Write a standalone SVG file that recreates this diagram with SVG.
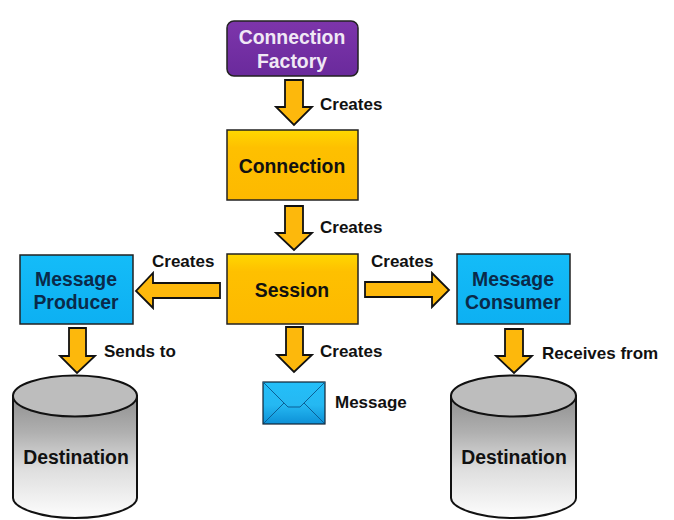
<svg xmlns="http://www.w3.org/2000/svg" width="674" height="520" viewBox="0 0 674 520">
<style>
text{font-family:"Liberation Sans",Arial,sans-serif;font-weight:700;text-anchor:middle}
.l{font-size:17px;fill:#111;text-anchor:start}
.n{font-size:19.400px}
.d{fill:#111}.w{fill:#f0e8f5}.b{fill:#0a2a4a}
.box{stroke:#222;stroke-width:1.500}
.arr{fill:#fdb80c;stroke:#111;stroke-width:1.800;stroke-linejoin:miter}
.cyl{stroke:#111;stroke-width:2}
</style>
<defs>
<linearGradient id="y" x1="0" y1="0" x2="0" y2="1"><stop offset="0" stop-color="#ffd800"/><stop offset=".25" stop-color="#fec000"/><stop offset="1" stop-color="#fdb900"/></linearGradient>
<linearGradient id="p" x1="0" y1="0" x2="0" y2="1"><stop offset="0" stop-color="#7d35ab"/><stop offset="1" stop-color="#6a2a9c"/></linearGradient>
<linearGradient id="c" x1="0" y1="0" x2="0" y2="1"><stop offset="0" stop-color="#14bcf8"/><stop offset="1" stop-color="#0db0f2"/></linearGradient>
<linearGradient id="g" x1="0" y1="0" x2="0" y2="1"><stop offset="0" stop-color="#8f8f8f"/><stop offset=".3" stop-color="#b0b0b0"/><stop offset=".6" stop-color="#dedede"/><stop offset="1" stop-color="#fdfdfd"/></linearGradient>
<linearGradient id="e" x1="0" y1="0" x2="0" y2="1"><stop offset="0" stop-color="#24bff9"/><stop offset=".55" stop-color="#25b8f2"/><stop offset="1" stop-color="#0d90d6"/></linearGradient>
</defs>
<g id="connectors">
<path class="arr" d="M285 80H303V107H312L294 125L276 107H285Z"/>
<path class="arr" d="M285 206H303V233H312L294 250L276 233H285Z"/>
<path class="arr" d="M286 327H303V355H312L294 372L277 355H286Z"/>
<path class="arr" d="M220 283V298H153V308L136 291L153 273V283Z"/>
<path class="arr" d="M365 282H432V273L449 290L432 307V297H365Z"/>
<path class="arr" d="M69 328H86V356H95L77 373L60 356H69Z"/>
<path class="arr" d="M505 329H523V356H532L514 373L496 356H505Z"/>
</g>
<g id="connection-factory"><rect class="box" x="227" y="21" width="131" height="55" rx="7" fill="url(#p)"/><text class="n w" x="292" y="44">Connection</text><text class="n w" x="292" y="68">Factory</text></g>
<g id="connection"><rect class="box" x="227" y="130" width="131" height="70" fill="url(#y)"/><text class="n d" x="292" y="173">Connection</text></g>
<g id="session"><rect class="box" x="227" y="254" width="131" height="70" fill="url(#y)"/><text class="n d" x="292" y="297">Session</text></g>
<g id="message-producer"><rect class="box" x="20" y="255" width="113" height="69" fill="url(#c)"/><text class="n b" x="76" y="286">Message</text><text class="n b" x="76" y="309">Producer</text></g>
<g id="message-consumer"><rect class="box" x="457" y="254" width="113" height="70" fill="url(#c)"/><text class="n b" x="513" y="286">Message</text><text class="n b" x="513" y="309">Consumer</text></g>
<g id="destination-1"><path class="cyl" d="M13 396V498C13 508 41 518 75 518S137 508 137 498V396Z" fill="url(#g)"/><ellipse class="cyl" cx="75" cy="396" rx="62" ry="20.500" fill="#bdbdbd"/><text class="n d" x="76" y="464">Destination</text></g>
<g id="destination-2"><path class="cyl" d="M451 396V498C451 508 479 518 513 518S576 508 576 498V396Z" fill="url(#g)"/><ellipse class="cyl" cx="513.500" cy="396" rx="62.500" ry="20.500" fill="#bdbdbd"/><text class="n d" x="514" y="464">Destination</text></g>
<g id="message"><rect x="263" y="382" width="62" height="42" fill="url(#e)" stroke="#123" stroke-width="1.200"/><path d="M263 382L288 407H300L325 382M264 423L284 403M324 423L304 403" fill="none" stroke="#0b5f96" stroke-width="1"/></g>
<g id="labels">
<text class="l" x="320" y="110">Creates</text>
<text class="l" x="320" y="233">Creates</text>
<text class="l" x="320" y="357">Creates</text>
<text class="l" x="152" y="267">Creates</text>
<text class="l" x="371" y="267">Creates</text>
<text class="l" x="104" y="357">Sends to</text>
<text class="l" x="542" y="359">Receives from</text>
<text class="l" x="335" y="408">Message</text>
</g>
</svg>
